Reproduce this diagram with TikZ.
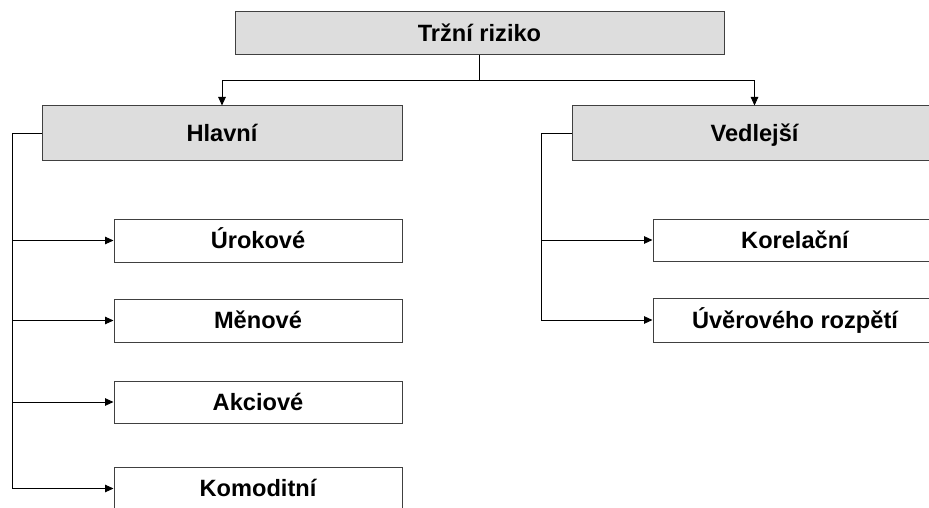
\documentclass[tikz,border=0pt]{standalone}
\usepackage{fontspec}
\setmainfont{Liberation Sans}
\usetikzlibrary{arrows.meta}
\definecolor{boxgray}{HTML}{DDDDDD}
\begin{document}
\begin{tikzpicture}[x=1pt,y=-1pt,
  base/.style={draw=black!75,line width=1pt,inner sep=0pt,
    text height=20.5pt,text depth=4pt,
    font=\fontsize{23.6}{27}\selectfont\bfseries,anchor=center},
  headbox/.style={base,fill=boxgray},
  leafbox/.style={base,fill=white,minimum height=43pt},
  conn/.style={line width=0.9pt,black},
  arr/.style={conn,-{Triangle[length=8.5pt,width=7.5pt]}}]
\useasboundingbox (0,0) rectangle (929,508);
\clip (0,0) rectangle (929,508);
\node[headbox,minimum width=489pt,minimum height=43pt] (top) at (479.5,33.5) {Tržní riziko};
\node[headbox,minimum width=360pt,minimum height=55pt] (hlavni) at (222,133.5) {Hlavní};
\node[headbox,minimum width=365pt,minimum height=55pt] (vedl) at (754.5,133.5) {Vedlejší};
\node[leafbox,minimum width=288pt] (urok) at (258,240.5) {Úrokové};
\node[leafbox,minimum width=288pt] (menove) at (258,320.5) {Měnové};
\node[leafbox,minimum width=288pt,minimum height=42pt] (akc) at (258,402) {Akciové};
\node[leafbox,minimum width=288pt] (komod) at (258,488.5) {Komoditní};
\node[leafbox,minimum width=284pt,minimum height=42pt] (korel) at (795,240) {Korelační};
\node[leafbox,minimum width=284pt,minimum height=44pt] (uver) at (795,320) {Úvěrového rozpětí};
\coordinate (split) at (479.5,80);
\coordinate (lx) at (12,0);
\coordinate (rx) at (541,0);
\draw[conn] (top.south) -- (split);
\draw[arr] (split) -| (hlavni.north);
\draw[arr] (split) -| (vedl.north);
\draw[conn] (hlavni.west) -- (hlavni.west -| lx) -- (komod.west -| lx);
\draw[arr] (urok.west -| lx) -- (urok.west);
\draw[arr] (menove.west -| lx) -- (menove.west);
\draw[arr] (akc.west -| lx) -- (akc.west);
\draw[arr] (komod.west -| lx) -- (komod.west);
\draw[conn] (vedl.west) -- (vedl.west -| rx) -- (uver.west -| rx);
\draw[arr] (korel.west -| rx) -- (korel.west);
\draw[arr] (uver.west -| rx) -- (uver.west);
\end{tikzpicture}
\end{document}
